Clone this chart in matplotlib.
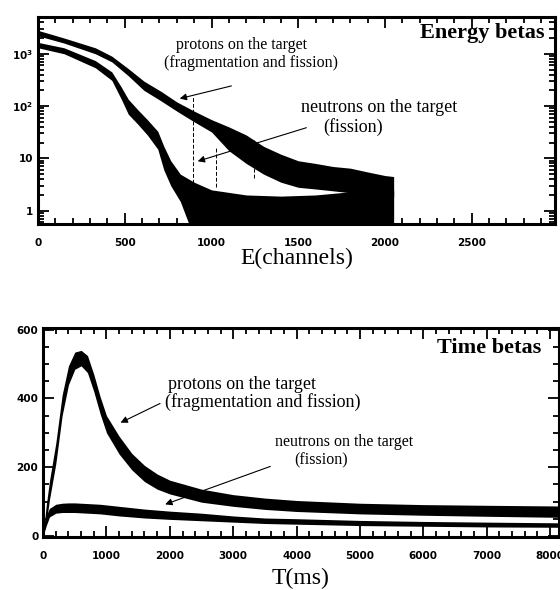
import matplotlib
matplotlib.use("Agg")
from matplotlib import pyplot as plt
from matplotlib.ticker import MultipleLocator, LogLocator, FixedLocator, NullFormatter

# energy spectrum (log counts vs channel)
prot_chan = [0, 150, 330, 425, 520, 610, 710, 800, 900, 1000, 1100, 1200,
             1300, 1400, 1500, 1600, 1700, 1800, 1900, 2000, 2050]
prot_hi = [2800, 2000, 1300, 900, 520, 300, 190, 120, 80, 55, 40, 28,
           17, 12, 9, 8, 7, 6.5, 5.5, 4.7, 4.5]
prot_lo = [2200, 1600, 1000, 700, 380, 200, 125, 80, 50, 32, 14, 8,
           5, 3.5, 2.8, 2.6, 2.4, 2.2, 2.0, 1.8, 1.8]

neut_chan = [0, 150, 330, 425, 480, 520, 575, 630, 690, 725, 765, 820, 870,
             900, 1000, 1200, 1400, 1600, 1800, 2000, 2050]
neut_hi = [1650, 1300, 740, 450, 230, 135, 85, 55, 33, 17, 9, 5, 4,
           3.5, 2.5, 2.0, 1.9, 2.0, 2.3, 2.5, 2.5]
neut_lo = [1300, 1000, 540, 310, 135, 70, 45, 28, 15, 6, 3, 1.5, 0.55,
           0.55, 0.55, 0.55, 0.55, 0.55, 0.55, 0.55, 0.55]

# time spectrum (counts vs ms)
t_ms = [0, 50, 100, 200, 300, 400, 500, 600, 700, 800, 900, 1000, 1200, 1400,
        1600, 1800, 2000, 2500, 3000, 3500, 4000, 5000, 6000, 7000, 8140]
t_prot_hi = [5, 90, 160, 270, 410, 495, 535, 540, 525, 470, 405, 350, 290, 240,
             205, 180, 162, 136, 120, 110, 103, 95, 91, 89, 87]
t_prot_lo = [0, 40, 105, 210, 350, 440, 485, 495, 475, 420, 355, 300, 238, 192,
             158, 136, 122, 98, 86, 77, 71, 64, 60, 57, 54]
t_neut_hi = [0, 60, 80, 92, 95, 96, 96, 95, 94, 93, 92, 90, 86, 82, 78, 75, 72,
             66, 58, 52, 50, 45, 42, 40, 38]
t_neut_lo = [0, 30, 55, 66, 68, 68, 68, 67, 66, 65, 64, 62, 58, 55, 52, 50, 48,
             44, 40, 36, 34, 30, 28, 26, 25]

serif = ['Liberation Serif', 'DejaVu Serif']


def style_axes(ax):
    for sp in ax.spines.values():
        sp.set_linewidth(2.2)
    ax.tick_params(which='both', direction='in', top=True, right=True,
                   width=1.3, labelsize=7.5)
    ax.tick_params(which='major', length=8)
    ax.tick_params(which='minor', length=4)
    ax.tick_params(axis='x', pad=10)
    for lab in ax.get_xticklabels() + ax.get_yticklabels():
        lab.set_fontweight('bold')
        lab.set_family(['DejaVu Sans'])


def arrow(ax, head, tail):
    ax.annotate('', xy=head, xytext=tail,
                arrowprops=dict(arrowstyle='-|>', color='k', lw=0.8,
                                mutation_scale=10))


def main():
    fig = plt.figure(figsize=(5.6, 5.9), dpi=100)

    # ---- energy betas ----
    ax1 = fig.add_axes([0.068, 0.620, 0.923, 0.351])
    ax1.fill_between(prot_chan, prot_lo, prot_hi, color='k', lw=0)
    ax1.fill_between(neut_chan, neut_lo, neut_hi, color='k', lw=0)
    ax1.set_yscale('log')
    ax1.set_xlim(0, 2980)
    ax1.set_ylim(0.552, 5020)
    ax1.xaxis.set_major_locator(FixedLocator([0, 500, 1000, 1500, 2000, 2500]))
    ax1.xaxis.set_minor_locator(MultipleLocator(100))
    ax1.yaxis.set_major_locator(FixedLocator([1, 10, 100, 1000]))
    ax1.yaxis.set_minor_locator(LogLocator(base=10, subs=range(2, 10)))
    ax1.yaxis.set_minor_formatter(NullFormatter())
    ax1.set_yticklabels(['1', '10', r'$\mathbf{10^2}$', r'$\mathbf{10^3}$'])
    style_axes(ax1)
    ax1.set_xlabel('E(channels)', family=serif, fontsize=17, labelpad=0)

    # dashed drop lines seen on the scan
    for x, y0, y1 in [(893, 0.552, 148), (1026, 2.8, 16), (1245, 4.2, 22)]:
        ax1.plot([x, x], [y0, y1], color='k', lw=0.7, ls=(0, (4, 2)))

    ax1.text(2560, 2470, 'Energy betas', family=serif, fontsize=16,
             fontweight='bold', ha='center', va='center')
    ax1.text(1170, 1450, 'protons on the target', family=serif, fontsize=11.5,
             ha='center', va='center')
    ax1.text(1228, 660, '(fragmentation and fission)', family=serif,
             fontsize=11.5, ha='center', va='center')
    arrow(ax1, (801, 135), (1130, 250))
    ax1.text(1965, 95, 'neutrons on the target', family=serif, fontsize=13,
             ha='center', va='center')
    ax1.text(1815, 40, '(fission)', family=serif, fontsize=13,
             ha='center', va='center')
    arrow(ax1, (905, 8.5), (1562, 40))

    # ---- time betas ----
    ax2 = fig.add_axes([0.077, 0.090, 0.921, 0.354])
    ax2.fill_between(t_ms, t_prot_lo, t_prot_hi, color='k', lw=0)
    ax2.fill_between(t_ms, t_neut_lo, t_neut_hi, color='k', lw=0)
    ax2.set_xlim(0, 8140)
    ax2.set_ylim(-3, 605)
    ax2.xaxis.set_major_locator(MultipleLocator(1000))
    ax2.xaxis.set_minor_locator(MultipleLocator(200))
    ax2.yaxis.set_major_locator(MultipleLocator(200))
    ax2.yaxis.set_minor_locator(MultipleLocator(50))
    style_axes(ax2)
    ax2.set_xlabel('T(ms)', family=serif, fontsize=17, labelpad=5)

    ax2.text(7035, 548, 'Time betas', family=serif, fontsize=16,
             fontweight='bold', ha='center', va='center')
    ax2.text(3140, 441, 'protons on the target', family=serif, fontsize=13,
             ha='center', va='center')
    ax2.text(3470, 389, '(fragmentation and fission)', family=serif,
             fontsize=13, ha='center', va='center')
    arrow(ax2, (1183, 326), (1885, 389))
    ax2.text(4748, 274, 'neutrons on the target', family=serif, fontsize=11.5,
             ha='center', va='center')
    ax2.text(4385, 219, '(fission)', family=serif, fontsize=11.5,
             ha='center', va='center')
    arrow(ax2, (1885, 89), (3628, 205))

    fig.savefig('out.png', dpi=100)


if __name__ == "__main__":
    main()
